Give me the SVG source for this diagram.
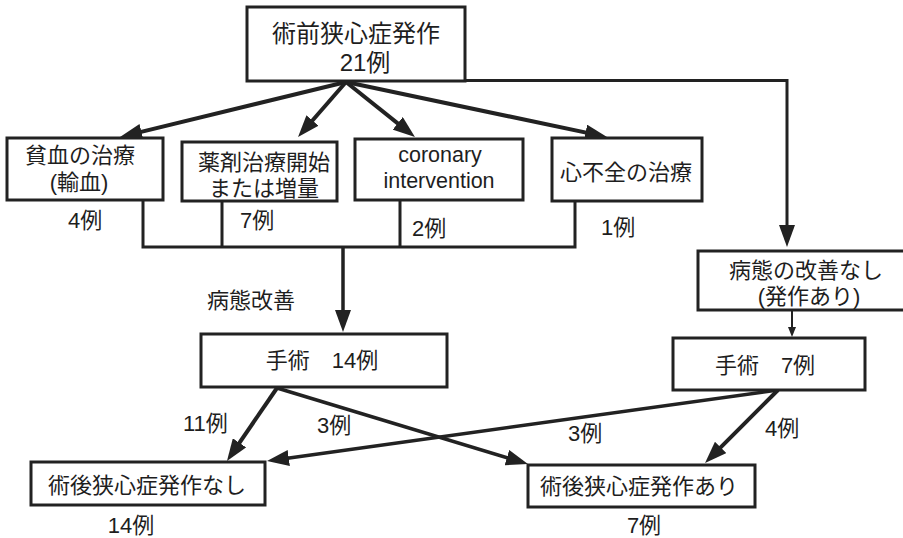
<svg xmlns="http://www.w3.org/2000/svg" width="903" height="538" viewBox="0 0 903 538">
<defs>
<style>
text{font-family:"Liberation Sans","Noto Sans CJK JP",sans-serif;font-size:22px;fill:#1e1e1e}
.c{text-anchor:middle}
.big{font-size:24px}
.lat{font-size:21.5px}
.box{fill:#fff;stroke:#222;stroke-width:3}
.ln{fill:none;stroke:#222;stroke-width:3}
.ar{fill:none;stroke:#222;stroke-width:4;marker-end:url(#ah)}
.thin{fill:none;stroke:#222;stroke-width:2;marker-end:url(#ahs)}
</style>
<marker id="ah" markerUnits="userSpaceOnUse" markerWidth="22" markerHeight="16" refX="14" refY="8" orient="auto"><path d="M0,0 L22,8 L0,16 z" fill="#222"/></marker>
<marker id="ahs" markerUnits="userSpaceOnUse" markerWidth="10" markerHeight="8" refX="7" refY="4" orient="auto"><path d="M0,0 L10,4 L0,8 z" fill="#222"/></marker>
</defs>
<rect width="903" height="538" fill="#fff"/>
<g id="connectors">
<path class="ar" d="M346,82 L127.8,135.1"/>
<path class="ar" d="M346,82 L303.3,131"/>
<path class="ar" d="M346,82 L408.7,132.1"/>
<path class="ar" d="M346,82 L599.2,135.4"/>
<path class="ar" d="M465,80.5 H787 V239" style="stroke-width:3"/>
<path class="ln" d="M143,200 V247 M222,201 V247 M400,200 V247 M575,201 V247 M141.5,247 H576.5"/>
<path class="ar" d="M343,247 V324" style="stroke-width:3.5"/>
<path class="thin" d="M792,311 V334"/>
<path class="ar" d="M277,388 L231.5,454.4"/>
<path class="ar" d="M277,388 L520.3,461.7" style="stroke-width:3.5"/>
<path class="ar" d="M778,390 L274.9,459.9" style="stroke-width:3.5"/>
<path class="ar" d="M778,390 L710.7,457.3"/>
</g>
<g id="n_top"><rect class="box" x="247" y="7" width="218" height="74"/>
<text class="c big" x="356" y="42">術前狭心症発作</text><text class="c big" x="365" y="71">21例</text></g>
<g id="n_anemia"><rect class="box" x="7" y="138" width="156" height="62"/>
<text class="c" x="80" y="163">貧血の治療</text><text class="c" x="79" y="190">(輸血)</text></g>
<g id="n_drug"><rect class="box" x="182" y="142" width="155" height="59"/>
<text class="c" x="264" y="170">薬剤治療開始</text><text class="c" x="264" y="196">または増量</text></g>
<g id="n_coronary"><rect class="box" x="355" y="139" width="168" height="61"/>
<text class="c lat" x="440" y="162">coronary</text><text class="c lat" x="439" y="188">intervention</text></g>
<g id="n_hf"><rect class="box" x="552" y="138" width="150" height="63"/>
<text class="c" x="626" y="180">心不全の治療</text></g>
<g id="labels_mid">
<text x="68" y="228">4例</text><text x="240" y="228">7例</text><text x="412" y="236">2例</text><text x="601" y="235">1例</text>
<text x="207" y="308">病態改善</text>
</g>
<g id="n_noimp"><rect class="box" x="698" y="251" width="220" height="59"/>
<text class="c" x="806" y="278">病態の改善なし</text><text class="c" x="809" y="304">(発作あり)</text></g>
<g id="n_op14"><rect class="box" x="201" y="334" width="246" height="53"/>
<text class="c" x="322" y="368">手術　14例</text></g>
<g id="n_op7"><rect class="box" x="673" y="338" width="192" height="52"/>
<text class="c" x="765" y="373">手術　7例</text></g>
<g id="labels_bottom">
<text x="183" y="431">11例</text><text x="317" y="433">3例</text><text x="568" y="441">3例</text><text x="765" y="436">4例</text>
</g>
<g id="n_none"><rect class="box" x="31" y="462" width="234" height="43"/>
<text class="c" x="147" y="493">術後狭心症発作なし</text><text class="c" x="131" y="533">14例</text></g>
<g id="n_yes"><rect class="box" x="528" y="465" width="227" height="42"/>
<text class="c" x="639" y="494">術後狭心症発作あり</text><text class="c" x="644" y="533">7例</text></g>
</svg>
